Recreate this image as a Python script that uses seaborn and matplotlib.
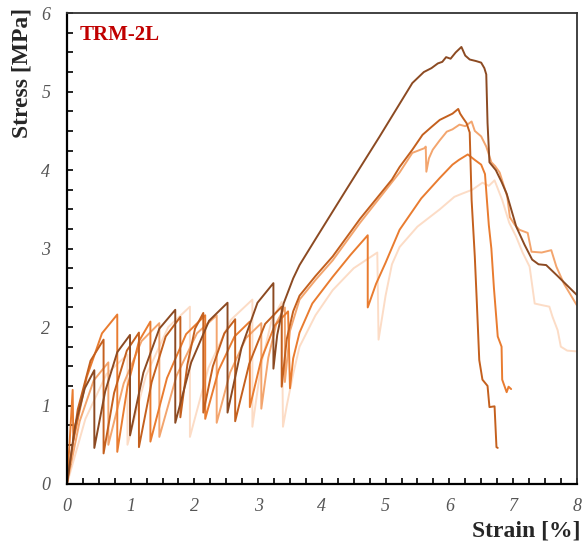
import numpy as np
import pandas as pd
import matplotlib
matplotlib.use("Agg")
import matplotlib.pyplot as plt
import seaborn as sns
from matplotlib.ticker import MultipleLocator

# stress-strain curves of five TRM-2L specimens
strain_1 = [0, 0.13, 0.28, 0.43,
            0.43, 0.60, 0.79, 0.99,
            0.99, 1.20, 1.45, 1.70,
            1.70, 1.95, 2.23, 2.52,
            2.52, 2.74, 2.99, 3.24,
            3.24, 3.3, 3.4, 3.55, 3.65, 3.9, 4.39, 4.9, 5.42, 5.6, 5.72, 5.82, 5.89,
            5.95, 6.02, 6.1, 6.19, 6.25, 6.32, 6.42, 6.5, 6.55, 6.58, 6.6, 6.63, 6.68,
            6.73, 6.82, 6.9, 7.05, 7.18, 7.3, 7.4, 7.52, 7.7, 8.0]
stress_1 = [0, 0.75, 1.22, 1.45,
            0.46, 1.18, 1.68, 1.9,
            0.62, 1.42, 1.98, 2.22,
            0.78, 1.55, 2.08, 2.31,
            0.91, 1.74, 2.31, 2.56,
            1.47, 1.9, 2.3, 2.62, 2.79, 3.12, 3.76, 4.42, 5.11, 5.25, 5.3, 5.36, 5.38,
            5.44, 5.42, 5.5, 5.57, 5.46, 5.41, 5.39, 5.37, 5.3, 5.22, 4.6, 4.1, 4.05,
            4.0, 3.85, 3.7, 3.28, 3.05, 2.86, 2.8, 2.79, 2.65, 2.41]

strain_2 = [0, 0.17, 0.37, 0.575,
            0.575, 0.74, 0.94, 1.13,
            1.13, 1.33, 1.55, 1.78,
            1.78, 1.89, 2.01, 2.14,
            2.14, 2.29, 2.47, 2.64,
            2.64, 2.86, 3.11, 3.37,
            3.37, 3.45, 3.55, 3.65, 3.9, 4.17, 4.6, 5.1, 5.22, 5.42, 5.58, 5.72, 5.85,
            5.95, 6.05, 6.14, 6.17, 6.21, 6.27, 6.32, 6.35, 6.4, 6.43, 6.47, 6.52, 6.6,
            6.63, 6.71, 6.74, 6.76]
stress_2 = [0, 0.95, 1.57, 1.84,
            0.39, 1.16, 1.7, 1.93,
            0.47, 1.3, 1.88, 2.13,
            0.85, 1.52, 1.98, 2.18,
            0.91, 1.5, 1.92, 2.1,
            0.8, 1.53, 2.04, 2.26,
            1.24, 1.85, 2.2, 2.4, 2.65, 2.9, 3.38, 3.88, 4.04, 4.26, 4.45, 4.55, 4.64,
            4.68, 4.72, 4.78, 4.72, 4.67, 4.6, 4.48, 3.62, 2.9, 2.35, 1.58, 1.33, 1.25,
            0.98, 0.99, 0.47, 0.46]

strain_3 = [0, 0.04, 0.09, 0.1, 0.31, 0.55, 0.79,
            0.79, 0.95, 1.13, 1.31,
            1.31, 1.57, 1.87, 2.17,
            2.17, 2.38, 2.63, 2.87,
            2.87, 3.05, 3.26, 3.47,
            3.5, 3.55, 3.65, 3.85, 4.17, 4.45, 4.72, 4.72, 4.85, 5.0, 5.22, 5.56, 5.85,
            6.05, 6.15, 6.29, 6.4, 6.5, 6.56, 6.59, 6.62, 6.66, 6.7, 6.74, 6.76, 6.82,
            6.83, 6.9, 6.93, 6.97]
stress_3 = [0, 0.5, 1.2, 0.55, 1.36, 1.92, 2.16,
            0.41, 1.24, 1.82, 2.07,
            0.54, 1.35, 1.91, 2.15,
            0.83, 1.45, 1.88, 2.07,
            0.98, 1.59, 2.02, 2.2,
            1.22, 1.6, 1.93, 2.3, 2.64, 2.92, 3.17, 2.25, 2.55, 2.82, 3.24, 3.64, 3.9,
            4.07, 4.13, 4.2, 4.13, 4.07, 3.95, 3.62, 3.3, 3.0, 2.5, 2.09, 1.88, 1.75,
            1.33, 1.17, 1.24, 1.21]

strain_4 = [0, 0.2, 0.42, 0.65,
            0.65, 0.89, 1.17, 1.45,
            1.45, 1.72, 2.04, 2.35,
            2.35, 2.56, 2.81, 3.05,
            3.05, 3.16, 3.29, 3.42,
            3.42, 3.5, 3.65, 3.9, 4.17, 4.6, 5.22, 5.42, 5.61, 5.63, 5.64, 5.68, 5.74,
            5.85, 5.96, 6.05, 6.16, 6.25, 6.35, 6.4, 6.5, 6.58, 6.66, 6.72, 6.79, 6.91,
            6.95, 7.03, 7.1, 7.23, 7.29, 7.45, 7.6, 7.68, 7.8, 8.0]
stress_4 = [0, 0.8, 1.32, 1.55,
            0.5, 1.28, 1.82, 2.05,
            0.6, 1.38, 1.92, 2.15,
            0.78, 1.42, 1.86, 2.05,
            0.96, 1.61, 2.06, 2.25,
            1.3, 1.95, 2.35, 2.6, 2.85, 3.33, 3.97, 4.22, 4.28, 4.3, 3.98, 4.15, 4.26,
            4.38, 4.49, 4.52, 4.58, 4.56, 4.62, 4.5, 4.43, 4.3, 4.1, 4.05, 3.97, 3.66,
            3.4, 3.3, 3.24, 3.2, 2.96, 2.95, 2.98, 2.77, 2.55, 2.28]

strain_5 = [0, 0.29, 0.62, 0.95,
            0.95, 1.24, 1.59, 1.93,
            1.93, 2.22, 2.57, 2.91,
            2.91, 3.05, 3.21, 3.37,
            3.39, 3.45, 3.55, 3.65, 3.9, 4.17, 4.5, 4.87, 4.89, 5.0, 5.1, 5.22, 5.5,
            5.85, 6.08, 6.2, 6.36, 6.52, 6.62, 6.71, 6.83, 6.94, 7.05, 7.15, 7.26, 7.34,
            7.45, 7.57, 7.62, 7.7, 7.75, 7.85, 8.0]
stress_5 = [0, 0.83, 1.4, 1.65,
            0.5, 1.38, 2.0, 2.26,
            0.6, 1.48, 2.09, 2.35,
            0.73, 1.53, 2.08, 2.32,
            0.73, 1.0, 1.4, 1.75, 2.15, 2.47, 2.75, 2.95, 1.84, 2.4, 2.8, 3.02, 3.28,
            3.5, 3.66, 3.7, 3.75, 3.84, 3.8, 3.87, 3.62, 3.33, 3.15, 2.95, 2.77, 2.3,
            2.28, 2.26, 2.13, 1.96, 1.75, 1.7, 1.69]

curve_names = ["S5", "S4", "S3", "S2", "S1"]
curve_colors = ["#fcdcc6", "#f3a56e", "#e97c30", "#c4601e", "#8c4a22"]

frames = []
for name, xs, ys in zip(curve_names,
                        [strain_5, strain_4, strain_3, strain_2, strain_1],
                        [stress_5, stress_4, stress_3, stress_2, stress_1]):
    frames.append(pd.DataFrame({"strain": xs, "stress": ys, "curve": name}))
df = pd.concat(frames, ignore_index=True)

sns.set_style("white")
plt.rcParams["font.family"] = ["Liberation Serif", "DejaVu Serif"]

fig = plt.figure(figsize=(5.82, 5.5), dpi=100)
ax = fig.add_axes([0.115, 0.12, 0.876, 0.856])

sns.lineplot(data=df, x="strain", y="stress", hue="curve", hue_order=curve_names,
             palette=dict(zip(curve_names, curve_colors)), sort=False,
             estimator=None, legend=False, linewidth=1.4, ax=ax)

ax.set_xlim(0, 8)
ax.set_ylim(0, 6)
ax.xaxis.set_major_locator(MultipleLocator(1))
ax.xaxis.set_minor_locator(MultipleLocator(0.25))
ax.yaxis.set_major_locator(MultipleLocator(1))
ax.yaxis.set_minor_locator(MultipleLocator(0.25))
ax.tick_params(which="both", direction="in", length=4, width=1.2, color="black",
               bottom=True, left=True, top=False, right=False)
ax.tick_params(axis="x", which="major", pad=10)
ax.tick_params(axis="y", which="major", pad=12)
for lab in ax.get_xticklabels() + ax.get_yticklabels():
    lab.set_fontstyle("italic")
    lab.set_fontsize(13)
    lab.set_color("#555555")

for side in ["left", "bottom"]:
    ax.spines[side].set_color("black")
    ax.spines[side].set_linewidth(1.6)
for side in ["top", "right"]:
    ax.spines[side].set_color("#333333")
    ax.spines[side].set_linewidth(1.3)

ax.set_xlabel("")
ax.set_ylabel("")
fig.text(0.997, 0.015, "Strain [%]", ha="right", va="bottom", fontsize=17,
         fontweight="bold")
fig.text(0.038, 0.985, "Stress [MPa]", ha="center", va="top", rotation=90,
         fontsize=17, fontweight="bold")
ax.text(0.025, 0.975, "TRM-2L", transform=ax.transAxes, ha="left", va="top",
        fontsize=15, fontweight="bold", color="#c00000")

fig.savefig("out.png", dpi=100)
